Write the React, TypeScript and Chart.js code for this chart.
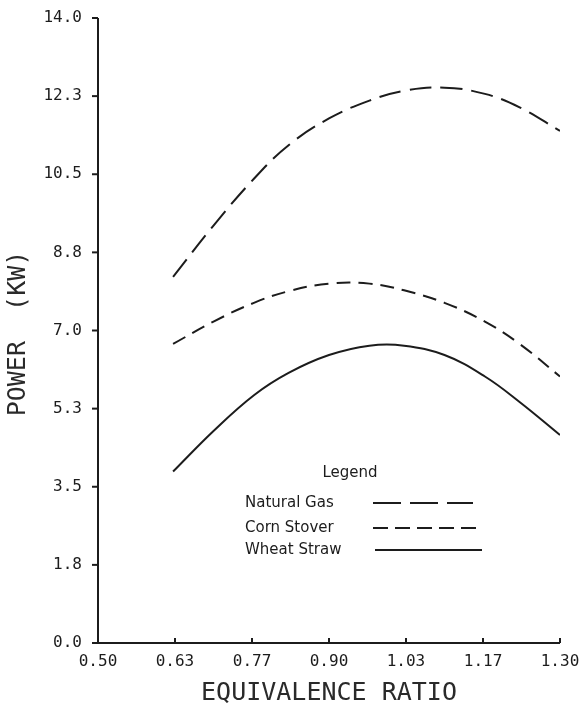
import React, { useEffect, useRef } from "react";
import { Chart, registerables } from "chart.js";

Chart.register(...registerables);

const xValues = [0.63, 0.70, 0.77, 0.83, 0.90, 0.97, 1.03, 1.10, 1.17, 1.23, 1.30];
const naturalGas = [8.2, 9.35, 10.4, 11.15, 11.75, 12.15, 12.37, 12.44, 12.3, 12.0, 11.47];
const cornStover = [6.7, 7.2, 7.62, 7.88, 8.05, 8.05, 7.9, 7.62, 7.2, 6.7, 5.97];
const wheatStraw = [3.84, 4.75, 5.55, 6.05, 6.45, 6.66, 6.66, 6.45, 5.97, 5.4, 4.66];

const seriesNames = ["Natural Gas", "Corn Stover", "Wheat Straw"];
const xTickValues = [0.5, 0.6333, 0.7667, 0.9, 1.0333, 1.1667, 1.3];
const xTickLabels = ["0.50", "0.63", "0.77", "0.90", "1.03", "1.17", "1.30"];
const yTickValues = [0, 1.75, 3.5, 5.25, 7, 8.75, 10.5, 12.25, 14];
const yTickLabels = ["0.0", "1.8", "3.5", "5.3", "7.0", "8.8", "10.5", "12.3", "14.0"];

const xTitle = "EQUIVALENCE RATIO";
const yTitle = "POWER  (KW)";
const legendTitle = "Legend";

const INK = "#1c1c1c";
const TITLE_FONT = "25px 'DejaVu Sans Mono'";
const LEGEND_FONT = "15px 'DejaVu Sans'";

const dashes = [[22, 9], [14, 8], []];
const legendDashes = [[28, 9], [15, 7], []];

const zeroPad = (s: any) => {
  s.paddingLeft = 0;
  s.paddingRight = 0;
  s.paddingTop = 0;
  s.paddingBottom = 0;
};

const decorPlugin = {
  id: "decor",
  afterDraw(chart: any) {
    const ctx = chart.ctx;
    const xs = chart.scales.x;
    const ys = chart.scales.y;
    const left = xs.left;
    const right = xs.right;
    const top = ys.top;
    const bottom = ys.bottom;
    ctx.save();
    ctx.strokeStyle = INK;
    ctx.lineWidth = 2;
    ctx.setLineDash([]);
    ctx.beginPath();
    ctx.moveTo(left, top);
    ctx.lineTo(left, bottom);
    ctx.lineTo(right, bottom);
    ctx.stroke();
    yTickValues.forEach((v) => {
      const py = ys.getPixelForValue(v);
      ctx.beginPath();
      ctx.moveTo(left - 6, py);
      ctx.lineTo(left, py);
      ctx.stroke();
    });
    xTickValues.forEach((v) => {
      const px = xs.getPixelForValue(v);
      ctx.beginPath();
      ctx.moveTo(px, bottom);
      ctx.lineTo(px, bottom - 5);
      ctx.stroke();
    });
    ctx.fillStyle = "#2a2a2a";
    ctx.font = TITLE_FONT;
    ctx.textAlign = "center";
    ctx.textBaseline = "middle";
    ctx.fillText(xTitle, (left + right) / 2, 693);
    ctx.save();
    ctx.translate(18, (top + bottom) / 2 + 3);
    ctx.rotate(-Math.PI / 2);
    ctx.fillText(yTitle, 0, 0);
    ctx.restore();
    ctx.font = LEGEND_FONT;
    ctx.fillStyle = INK;
    ctx.textAlign = "center";
    ctx.fillText(legendTitle, 350, 473);
    ctx.textAlign = "left";
    const rowsY = [503, 528, 550];
    const lineStart = [373, 373, 375];
    const lineEnd = [473, 482, 482];
    seriesNames.forEach((name, i) => {
      ctx.fillText(name, 245, rowsY[i]);
      ctx.beginPath();
      ctx.setLineDash(legendDashes[i]);
      ctx.lineWidth = 2;
      ctx.moveTo(lineStart[i], rowsY[i]);
      ctx.lineTo(lineEnd[i], rowsY[i]);
      ctx.stroke();
    });
    ctx.restore();
  },
};

export default function App() {
  const ref = useRef<HTMLCanvasElement | null>(null);
  useEffect(() => {
    if (!ref.current) return;
    const all = [naturalGas, cornStover, wheatStraw];
    const chart = new Chart(ref.current, {
      type: "line",
      data: {
        datasets: all.map((vals, i) => ({
          label: seriesNames[i],
          data: vals.map((v, j) => ({ x: xValues[j], y: v })),
          borderColor: INK,
          borderWidth: 2,
          borderDash: dashes[i],
          pointRadius: 0,
          tension: 0.4,
          fill: false,
        })),
      },
      options: {
        animation: false,
        responsive: false,
        maintainAspectRatio: false,
        layout: { padding: { left: 0, right: 19, top: 18, bottom: 0 } },
        plugins: { legend: { display: false }, tooltip: { enabled: false }, title: { display: false } },
        scales: {
          x: {
            type: "linear",
            min: 0.5,
            max: 1.3,
            grid: { display: false, drawTicks: false },
            border: { display: false },
            afterBuildTicks: (s: any) => {
              s.ticks = xTickValues.map((v) => ({ value: v }));
            },
            afterFit: (s: any) => {
              s.height = 61;
              zeroPad(s);
            },
            ticks: {
              padding: 9,
              color: INK,
              font: { family: "'DejaVu Sans Mono'", size: 16 },
              maxRotation: 0,
              autoSkip: false,
              callback: (_v: any, i: number) => xTickLabels[i],
            },
          },
          y: {
            type: "linear",
            min: 0,
            max: 14,
            grid: { display: false, drawTicks: false },
            border: { display: false },
            afterBuildTicks: (s: any) => {
              s.ticks = yTickValues.map((v) => ({ value: v }));
            },
            afterFit: (s: any) => {
              s.width = 98;
              zeroPad(s);
            },
            ticks: {
              padding: 16,
              color: INK,
              font: { family: "'DejaVu Sans Mono'", size: 16 },
              autoSkip: false,
              callback: (_v: any, i: number) => yTickLabels[i],
            },
          },
        },
      },
      plugins: [decorPlugin],
    });
    return () => chart.destroy();
  }, []);
  return (
    <div style={{ position: "fixed", left: 0, top: 0, width: 579, height: 704, background: "#fff" }}>
      <canvas ref={ref} width={579} height={704} style={{ width: 579, height: 704, display: "block" }} />
    </div>
  );
}
